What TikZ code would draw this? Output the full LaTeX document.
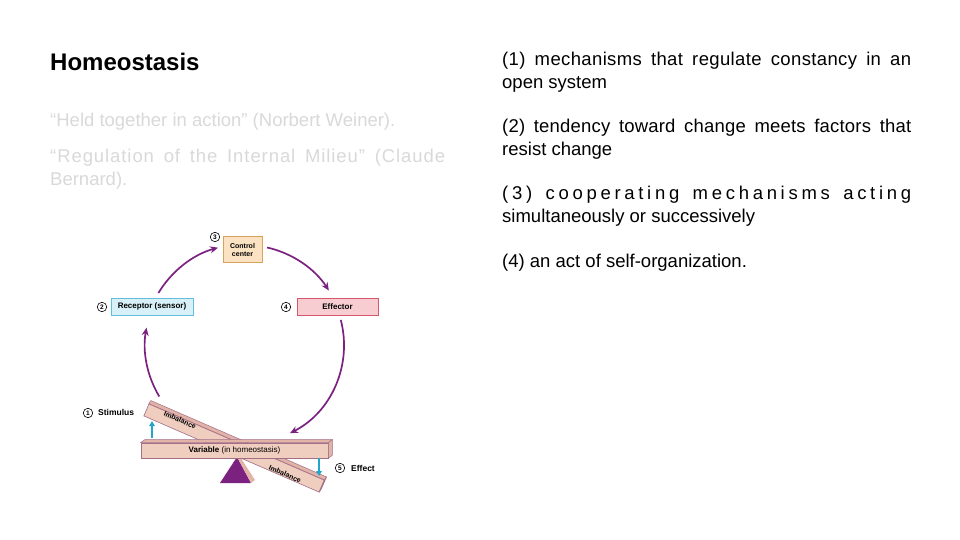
\documentclass[tikz,border=0pt]{standalone}
\usepackage{fontspec}
\setmainfont{Liberation Sans}
\usetikzlibrary{arrows.meta,calc}

\definecolor{purp}{HTML}{7B2281}
\definecolor{cyanarr}{HTML}{22A5CB}
\definecolor{ctrlfill}{HTML}{FBE2C2}
\definecolor{ctrlline}{HTML}{D7A25C}
\definecolor{recfill}{HTML}{D8F0F7}
\definecolor{recline}{HTML}{62BEDB}
\definecolor{efffill}{HTML}{F8CDD2}
\definecolor{effline}{HTML}{D6566C}
\definecolor{barfill}{HTML}{EFCDBF}
\definecolor{barline}{HTML}{A46E87}
\definecolor{barside}{HTML}{E2B4A8}
\definecolor{quotegray}{HTML}{D9D9D9}

\begin{document}
\begin{tikzpicture}[x=1pt,y=-1pt,
  body/.style={anchor=base west, inner sep=0pt, font=\fontsize{18.5}{22.5}\selectfont},
  quote/.style={body, text=quotegray},
  stagebox/.style={draw, line width=0.8pt, inner sep=0pt, align=center,
    font=\fontsize{8}{8.5}\selectfont\bfseries},
  numc/.style={circle, draw, line width=0.6pt, inner sep=0pt, minimum size=9.5pt,
    font=\fontsize{6.5}{7}\selectfont\bfseries},
  tag/.style={inner sep=0pt, font=\fontsize{8.5}{9}\selectfont\bfseries},
  barbox/.style={draw=barline, fill=barfill, line width=0.6pt, inner sep=0pt},
  barface/.style={draw=barline, fill=barside, line width=0.5pt},
  flow/.style={draw=purp, line width=1.7pt, -{Stealth[length=8pt,width=7pt]}},
  nudge/.style={draw=cyanarr, line width=1.5pt, -{Triangle[length=5pt,width=5.5pt]}}
]
\useasboundingbox (0,0) rectangle (960,540);
\fill[white] (0,0) rectangle (960,540);

% ---- left column: title and quotations
\node[anchor=base west, inner sep=0pt, font=\fontsize{24}{28}\selectfont\bfseries]
  (title) at (50,70.5) {Homeostasis};
\node[quote] (q1) at (50,126.5) {“Held together in action” (Norbert Weiner).};
\node[quote] (q2a) at (50,163) {\makebox[395pt][s]{\addfontfeature{LetterSpace=5}“Regulation of the Internal Milieu” (Claude}};
\node[quote] (q2b) at (50,185.5) {Bernard).};

% ---- right column: definitions
\node[body] (d1a) at (502,66)    {\makebox[409pt][s]{\addfontfeature{LetterSpace=2}(1) mechanisms that regulate constancy in an}};
\node[body] (d1b) at (502,88.5)  {open system};
\node[body] (d2a) at (502,133)   {\makebox[409pt][s]{\addfontfeature{LetterSpace=1}(2) tendency toward change meets factors that}};
\node[body] (d2b) at (502,155.5) {resist change};
\node[body] (d3a) at (502,200)   {\makebox[409pt][s]{\addfontfeature{LetterSpace=20}(3) cooperating mechanisms acting}};
\node[body] (d3b) at (502,222.5) {simultaneously or successively};
\node[body] (d4)  at (502,267)   {(4) an act of self-organization.};

% ---- feedback loop boxes
\node[stagebox, draw=ctrlline, fill=ctrlfill, minimum width=39pt, minimum height=26pt,
  font=\fontsize{7}{8}\selectfont\bfseries] (ctrl) at (242.5,249.5) {Control\\center};
\node[stagebox, draw=recline, fill=recfill, minimum width=82pt, minimum height=17pt]
  (rec) at (152,306.5) {Receptor (sensor)};
\node[stagebox, draw=effline, fill=efffill, minimum width=81pt, minimum height=17pt]
  (eff) at (337.5,306.5) {Effector};

\node[numc] (n2) at (102,307) {2};
\node[numc] (n3) at (215,237) {3};
\node[numc] (n4) at (286,307) {4};

% ---- see-saw: fulcrum, tilted bar, level bar
\coordinate (apex) at (237,457);
\fill[purp] (apex) -- (220,483) -- (251,483) -- cycle;
\fill[barside] (apex) -- (251,483) -- (255,480) -- (239.5,456) -- cycle;

\node[barbox, rotate=-23.5, minimum width=191pt, minimum height=13pt] (tilt) at (234,448) {};
\draw[barface] (tilt.north west) -- ([shift={(2,-3)}]tilt.north west)
  -- ([shift={(2,-3)}]tilt.north east) -- (tilt.north east) -- cycle;
\draw[barface] (tilt.north east) -- ([shift={(2,-3)}]tilt.north east)
  -- ([shift={(2,-3)}]tilt.south east) -- (tilt.south east) -- cycle;
\node[tag, rotate=-23.5, font=\fontsize{7}{8}\selectfont\bfseries] (imb1) at (180,420) {Imbalance};
\node[tag, rotate=-23.5, font=\fontsize{7}{8}\selectfont\bfseries] (imb2) at (285,474) {Imbalance};

\node[barbox, minimum width=187pt, minimum height=15pt,
  font=\fontsize{8}{9}\selectfont] (var) at (234.5,450.5) {\textbf{Variable} (in homeostasis)};
\draw[barface] (var.north west) -- ([shift={(4,-3)}]var.north west)
  -- ([shift={(4,-3)}]var.north east) -- (var.north east) -- cycle;
\draw[barface] (var.north east) -- ([shift={(4,-3)}]var.north east)
  -- ([shift={(4,-3)}]var.south east) -- (var.south east) -- cycle;

% ---- stimulus and effect markers
\node[numc] (n1) at (88,413) {1};
\node[tag, anchor=west] (stim) at (98,412) {Stimulus};
\node[numc] (n5) at (340,468) {5};
\node[tag, anchor=west] (effect) at (351,468) {Effect};

\coordinate (up0) at (152,438);
\coordinate (up1) at (152,421);
\draw[nudge] (up0) -- (up1);
\coordinate (dn0) at (319,458);
\coordinate (dn1) at (319,476);
\draw[nudge] (dn0) -- (dn1);

% ---- loop arrows, arcs of one circle around (245,345)
\coordinate (hub) at (245,345);
\coordinate (a0) at ($(hub)+(149:100)$);
\coordinate (b0) at ($(hub)+(211:101)$);
\coordinate (c0) at ($(hub)+(282.8:100)$);
\coordinate (e0) at ($(hub)+(-14.7:99)$);
\draw[flow] (a0) arc[start angle=149, end angle=190, radius=100];
\draw[flow] (b0) arc[start angle=211, end angle=254.5, radius=101];
\draw[flow] (c0) arc[start angle=282.8, end angle=327, radius=100];
\draw[flow] (e0) arc[start angle=-14.7, end angle=63, radius=99];
\end{tikzpicture}
\end{document}
